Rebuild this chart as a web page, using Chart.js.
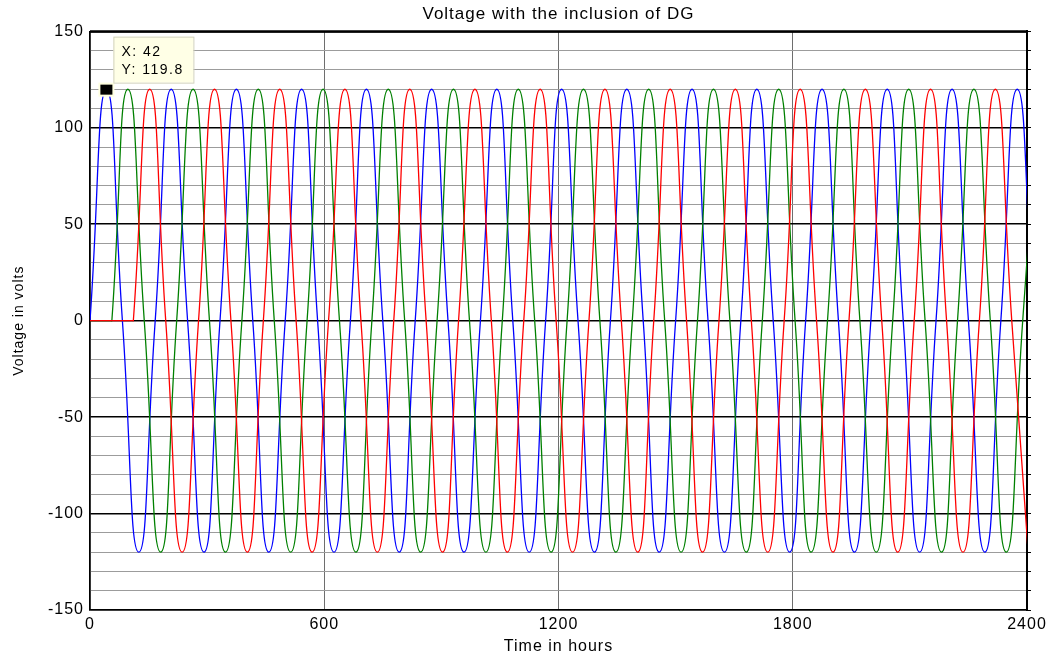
<!DOCTYPE html>
<html>
<head>
<meta charset="utf-8">
<title>Voltage with the inclusion of DG</title>
<script src="https://cdn.jsdelivr.net/npm/chart.js@4.4.1/dist/chart.umd.min.js"></script>
<style>
  html, body { margin: 0; padding: 0; background: #fff; }
  #wrap { width: 1052px; height: 659px; }
</style>
</head>
<body>
<div id="wrap"><canvas id="voltChart"></canvas></div>
<script>
// turning points of each phase (zero crossings and crests);
// the last point of each phase is the next turning point just past the right edge
const blueTime = [
  0, 42, 83, 125, 167, 208, 250, 292, 333, 375, 417, 458,
  500, 542, 583, 625, 667, 708, 750, 792, 833, 875, 917, 958,
  1000, 1042, 1083, 1125, 1167, 1208, 1250, 1292, 1333, 1375, 1417, 1458,
  1500, 1542, 1583, 1625, 1667, 1708, 1750, 1792, 1833, 1875, 1917, 1958,
  2000, 2042, 2083, 2125, 2167, 2208, 2250, 2292, 2333, 2375, 2417
];
const blueVolt = [
  0, 120, 0, -120, 0, 120, 0, -120, 0, 120, 0, -120,
  0, 120, 0, -120, 0, 120, 0, -120, 0, 120, 0, -120,
  0, 120, 0, -120, 0, 120, 0, -120, 0, 120, 0, -120,
  0, 120, 0, -120, 0, 120, 0, -120, 0, 120, 0, -120,
  0, 120, 0, -120, 0, 120, 0, -120, 0, 120, 0
];
const greenTime = [
  0, 54,
  56, 97, 139, 181, 222, 264, 306, 347, 389, 431, 472, 514,
  556, 597, 639, 681, 722, 764, 806, 847, 889, 931, 972, 1014,
  1056, 1097, 1139, 1181, 1222, 1264, 1306, 1347, 1389, 1431, 1472, 1514,
  1556, 1597, 1639, 1681, 1722, 1764, 1806, 1847, 1889, 1931, 1972, 2014,
  2056, 2097, 2139, 2181, 2222, 2264, 2306, 2347, 2389, 2431
];
const greenVolt = [
  0, 0,
  0, 120, 0, -120, 0, 120, 0, -120, 0, 120, 0, -120,
  0, 120, 0, -120, 0, 120, 0, -120, 0, 120, 0, -120,
  0, 120, 0, -120, 0, 120, 0, -120, 0, 120, 0, -120,
  0, 120, 0, -120, 0, 120, 0, -120, 0, 120, 0, -120,
  0, 120, 0, -120, 0, 120, 0, -120, 0, 120
];
const redTime = [
  0, 109,
  111, 153, 194, 236, 278, 319, 361, 403, 444, 486, 528, 569,
  611, 653, 694, 736, 778, 819, 861, 903, 944, 986, 1028, 1069,
  1111, 1153, 1194, 1236, 1278, 1319, 1361, 1403, 1444, 1486, 1528, 1569,
  1611, 1653, 1694, 1736, 1778, 1819, 1861, 1903, 1944, 1986, 2028, 2069,
  2111, 2153, 2194, 2236, 2278, 2319, 2361, 2403
];
const redVolt = [
  0, 0,
  0, 120, 0, -120, 0, 120, 0, -120, 0, 120, 0, -120,
  0, 120, 0, -120, 0, 120, 0, -120, 0, 120, 0, -120,
  0, 120, 0, -120, 0, 120, 0, -120, 0, 120, 0, -120,
  0, 120, 0, -120, 0, 120, 0, -120, 0, 120, 0, -120,
  0, 120, 0, -120, 0, 120, 0, -120
];
const xTicks = [0, 600, 1200, 1800, 2400];
const yLabels = [-150, -100, -50, 0, 50, 100, 150];
const cursorX = 42;
const cursorY = 119.8;

const pts = (t, v) => t.map((x, i) => ({ x: x, y: v[i] }));

Chart.defaults.font.family = '"Liberation Sans", Arial, Helvetica, sans-serif';
Chart.defaults.color = '#000';

// top frame line + the data cursor box
const frameAndCursor = {
  id: 'frameAndCursor',
  beforeDraw(chart) {
    chart.ctx.letterSpacing = '1px';
  },
  afterDatasetsDraw(chart) {
    const { ctx, chartArea: a, scales } = chart;
    ctx.save();
    ctx.strokeStyle = '#000';
    ctx.lineWidth = 2.5;
    ctx.beginPath();
    ctx.moveTo(a.left, a.top);
    ctx.lineTo(a.right, a.top);
    ctx.stroke();

    const px = scales.x.getPixelForValue(cursorX);
    const py = scales.y.getPixelForValue(cursorY);
    ctx.fillStyle = '#ffffe1';
    ctx.fillRect(px - 8, py - 7, 16, 14);
    ctx.fillStyle = '#000';
    ctx.fillRect(px - 6, py - 5, 12, 10);

    const bx = px + 7, by = py - 53;
    ctx.fillStyle = '#ffffe6';
    ctx.fillRect(bx, by, 80, 46);
    ctx.strokeStyle = '#d2d2be';
    ctx.lineWidth = 1;
    ctx.strokeRect(bx + 0.5, by + 0.5, 80, 46);
    ctx.fillStyle = '#000';
    ctx.font = '14px "Liberation Sans", Arial, sans-serif';
    ctx.letterSpacing = '1.5px';
    ctx.textBaseline = 'middle';
    ctx.fillText('X: ' + cursorX, bx + 8, by + 15.5);
    ctx.fillText('Y: ' + cursorY, bx + 8, by + 33);
    ctx.restore();
  }
};

new Chart(document.getElementById('voltChart'), {
  type: 'line',
  data: {
    datasets: [
      { label: 'Phase a', data: pts(blueTime, blueVolt), borderColor: '#0000ff', order: 3 },
      { label: 'Phase b', data: pts(greenTime, greenVolt), borderColor: '#008000', order: 2 },
      { label: 'Phase c', data: pts(redTime, redVolt), borderColor: '#ff0000', order: 1 }
    ]
  },
  options: {
    responsive: true,
    maintainAspectRatio: false,
    animation: false,
    events: [],
    layout: { padding: 0 },
    elements: {
      line: { tension: 0.55, borderWidth: 1.3, fill: false },
      point: { radius: 0 }
    },
    plugins: {
      legend: { display: false },
      tooltip: { enabled: false },
      title: {
        display: true,
        text: 'Voltage with the inclusion of DG',
        fullSize: false,
        color: '#000',
        font: { size: 17, weight: 'normal' },
        padding: { top: 4, bottom: 7 }
      }
    },
    scales: {
      x: {
        type: 'linear',
        min: 0,
        max: 2400,
        afterFit: s => { s.height = 49; },
        afterBuildTicks: s => { s.ticks = xTicks.map(v => ({ value: v })); },
        ticks: {
          font: { size: 16 },
          padding: 5,
          maxRotation: 0,
          autoSkip: false,
          callback: v => String(v)
        },
        grid: { drawTicks: false, color: '#6e6e6e', lineWidth: 1 },
        border: { color: '#000', width: 1.5 },
        title: {
          display: true,
          text: 'Time in hours',
          font: { size: 16 },
          padding: { top: 0, bottom: 3 }
        }
      },
      y: {
        min: -150,
        max: 150,
        afterFit: s => { s.width = 90; },
        ticks: {
          stepSize: 10,
          autoSkip: false,
          padding: 6,
          font: { size: 16 },
          callback: v => yLabels.includes(v) ? String(v) : ''
        },
        grid: {
          drawTicks: false,
          color: c => yLabels.includes(c.tick.value) ? '#000' : '#9c9c9c',
          lineWidth: c => yLabels.includes(c.tick.value) ? 1.6 : 1
        },
        border: { color: '#000', width: 1.5 },
        title: {
          display: true,
          text: 'Voltage in volts',
          font: { size: 14 },
          padding: { top: 11, bottom: 0 }
        }
      },
      y2: {
        position: 'right',
        min: -150,
        max: 150,
        afterFit: s => { s.width = 25; },
        ticks: { display: false, stepSize: 10 },
        grid: { drawOnChartArea: false, drawTicks: true, tickLength: 4, color: '#000', lineWidth: 1 },
        border: { color: '#000', width: 2 }
      }
    }
  },
  plugins: [frameAndCursor]
});
</script>
</body>
</html>
